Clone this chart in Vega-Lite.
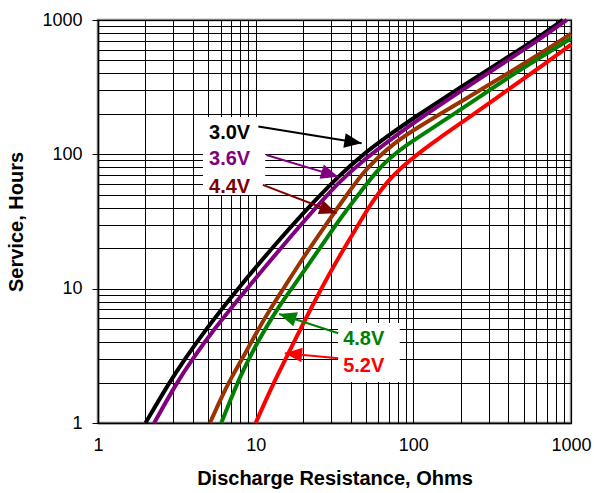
{
  "$schema": "https://vega.github.io/schema/vega-lite/v6.json",
  "width": 473,
  "height": 403,
  "autosize": "none",
  "padding": {"left": 98, "top": 20, "right": 23, "bottom": 70},
  "background": "white",
  "config": {
    "font": "Liberation Sans",
    "view": {"stroke": "#808080", "strokeWidth": 2.5}
  },
  "datasets": {
    "curves": [
      {"series": "3.0V", "R": 2, "H": 1}, {"series": "3.0V", "R": 2.83, "H": 2}, {"series": "3.0V", "R": 3.56, "H": 3},
      {"series": "3.0V", "R": 4.84, "H": 5}, {"series": "3.0V", "R": 7.7, "H": 10}, {"series": "3.0V", "R": 12.9, "H": 20.5},
      {"series": "3.0V", "R": 21, "H": 39}, {"series": "3.0V", "R": 34, "H": 70}, {"series": "3.0V", "R": 48, "H": 100},
      {"series": "3.0V", "R": 70, "H": 139}, {"series": "3.0V", "R": 100, "H": 186}, {"series": "3.0V", "R": 200, "H": 317},
      {"series": "3.0V", "R": 400, "H": 533}, {"series": "3.0V", "R": 600, "H": 722}, {"series": "3.0V", "R": 889, "H": 1000},
      {"series": "3.6V", "R": 2.27, "H": 1}, {"series": "3.6V", "R": 3.16, "H": 2}, {"series": "3.6V", "R": 3.98, "H": 3},
      {"series": "3.6V", "R": 5.45, "H": 5}, {"series": "3.6V", "R": 8.8, "H": 10}, {"series": "3.6V", "R": 12.9, "H": 17.1},
      {"series": "3.6V", "R": 21, "H": 33.5}, {"series": "3.6V", "R": 34, "H": 63}, {"series": "3.6V", "R": 48, "H": 90},
      {"series": "3.6V", "R": 70, "H": 126}, {"series": "3.6V", "R": 100, "H": 171}, {"series": "3.6V", "R": 200, "H": 296},
      {"series": "3.6V", "R": 400, "H": 505}, {"series": "3.6V", "R": 600, "H": 690}, {"series": "3.6V", "R": 940, "H": 1000},
      {"series": "4.4V", "R": 5.13, "H": 1}, {"series": "4.4V", "R": 6.1, "H": 1.58}, {"series": "4.4V", "R": 7.04, "H": 2.2},
      {"series": "4.4V", "R": 8.34, "H": 3.1}, {"series": "4.4V", "R": 9.9, "H": 4.5}, {"series": "4.4V", "R": 12.3, "H": 7},
      {"series": "4.4V", "R": 15, "H": 10}, {"series": "4.4V", "R": 20, "H": 17}, {"series": "4.4V", "R": 26.8, "H": 28},
      {"series": "4.4V", "R": 37.8, "H": 50}, {"series": "4.4V", "R": 48, "H": 73}, {"series": "4.4V", "R": 58.5, "H": 93},
      {"series": "4.4V", "R": 75, "H": 120}, {"series": "4.4V", "R": 100, "H": 152}, {"series": "4.4V", "R": 200, "H": 246},
      {"series": "4.4V", "R": 400, "H": 402}, {"series": "4.4V", "R": 700, "H": 600}, {"series": "4.4V", "R": 1000, "H": 790},
      {"series": "4.8V", "R": 6.05, "H": 1}, {"series": "4.8V", "R": 6.9, "H": 1.47}, {"series": "4.8V", "R": 7.95, "H": 2.2},
      {"series": "4.8V", "R": 9.66, "H": 3.5}, {"series": "4.8V", "R": 11.7, "H": 5.2}, {"series": "4.8V", "R": 14.3, "H": 7.6},
      {"series": "4.8V", "R": 16.9, "H": 10}, {"series": "4.8V", "R": 22, "H": 15.5}, {"series": "4.8V", "R": 29, "H": 25},
      {"series": "4.8V", "R": 38, "H": 39}, {"series": "4.8V", "R": 46, "H": 52}, {"series": "4.8V", "R": 58, "H": 74},
      {"series": "4.8V", "R": 70, "H": 93}, {"series": "4.8V", "R": 90, "H": 117}, {"series": "4.8V", "R": 130, "H": 155},
      {"series": "4.8V", "R": 200, "H": 215}, {"series": "4.8V", "R": 400, "H": 375}, {"series": "4.8V", "R": 700, "H": 560},
      {"series": "4.8V", "R": 1000, "H": 730},
      {"series": "5.2V", "R": 10, "H": 1}, {"series": "5.2V", "R": 11.5, "H": 1.45}, {"series": "5.2V", "R": 13.3, "H": 2.1},
      {"series": "5.2V", "R": 18.2, "H": 4.4}, {"series": "5.2V", "R": 25.7, "H": 9.8}, {"series": "5.2V", "R": 35, "H": 18.5},
      {"series": "5.2V", "R": 44, "H": 29}, {"series": "5.2V", "R": 56, "H": 46}, {"series": "5.2V", "R": 68, "H": 62},
      {"series": "5.2V", "R": 82, "H": 78}, {"series": "5.2V", "R": 110, "H": 104}, {"series": "5.2V", "R": 150, "H": 135},
      {"series": "5.2V", "R": 200, "H": 171}, {"series": "5.2V", "R": 400, "H": 303}, {"series": "5.2V", "R": 700, "H": 482},
      {"series": "5.2V", "R": 1000, "H": 655}
    ],
    "labels": [
      {"label": "3.0V", "R": 5.06, "H": 129.5},
      {"label": "3.6V", "R": 5.06, "H": 83.4},
      {"label": "4.4V", "R": 5.06, "H": 51.9},
      {"label": "4.8V", "R": 35.9, "H": 3.81},
      {"label": "5.2V", "R": 35.9, "H": 2.41}
    ],
    "arrows": [
      {"label": "3.0V", "R": 47, "H": 121, "R2": 10.4, "H2": 161},
      {"label": "3.6V", "R": 33.4, "H": 68.2, "R2": 11.7, "H2": 99},
      {"label": "4.4V", "R": 32.6, "H": 36.4, "R2": 11.1, "H2": 59.2},
      {"label": "4.8V", "R": 14.1, "H": 6.48, "R2": 33.4, "H2": 4.66},
      {"label": "5.2V", "R": 15.3, "H": 3.3, "R2": 33.4, "H2": 3.03}
    ],
    "boxes": [
      {"R": 4.63, "H": 190, "R2": 11.5, "H2": 49.9},
      {"R": 33.3, "H": 5.55, "R2": 82, "H2": 2.02}
    ]
  },
  "encoding": {
    "x": {
      "field": "R", "type": "quantitative",
      "scale": {"type": "log", "domain": [1, 1000], "nice": false},
      "title": "Discharge Resistance, Ohms",
      "axis": {
        "values": [1,2,3,4,5,6,7,8,9,10,20,30,40,50,60,70,80,90,100,200,300,400,500,600,700,800,900,1000],
        "format": "d",
        "labelExpr": "indexof([1,10,100,1000], datum.value) >= 0 ? datum.label : ''",
        "labelOverlap": false, "labelFlush": false, "labelBound": false,
        "labelFontSize": 18, "labelColor": "#000", "labelPadding": 13,
        "ticks": false, "tickSize": 0,
        "grid": true, "gridColor": "#000", "gridWidth": 1, "gridOpacity": 1,
        "domainColor": "#000", "domainWidth": 1.5,
        "titleFontSize": 20, "titleFontWeight": "bold", "titleColor": "#000", "titlePadding": 14
      }
    },
    "y": {
      "field": "H", "type": "quantitative",
      "scale": {"type": "log", "domain": [1, 1000], "nice": false},
      "title": "Service, Hours",
      "axis": {
        "values": [1,2,3,4,5,6,7,8,9,10,20,30,40,50,60,70,80,90,100,200,300,400,500,600,700,800,900,1000],
        "format": "d",
        "labelExpr": "indexof([1,10,100,1000], datum.value) >= 0 ? datum.label : ''",
        "labelOverlap": false, "labelBound": false, "labelFlush": false,
        "labelFontSize": 18, "labelColor": "#000", "labelPadding": 10,
        "ticks": true, "tickSize": 6, "tickColor": "#000",
        "tickOpacity": {"condition": {"test": "indexof([1,10,100,1000], datum.value) >= 0", "value": 1}, "value": 0},
        "grid": true, "gridColor": "#000", "gridWidth": 1, "gridOpacity": 1,
        "domainColor": "#000", "domainWidth": 1.5,
        "titleFontSize": 20, "titleFontWeight": "bold", "titleColor": "#000", "titlePadding": 15
      }
    }
  },
  "layer": [
    {
      "data": {"name": "boxes"},
      "mark": {"type": "rect", "fill": "white", "stroke": null},
      "encoding": {"x2": {"field": "R2"}, "y2": {"field": "H2"}}
    },
    {
      "data": {"name": "curves"},
      "mark": {"type": "line", "strokeWidth": 4, "interpolate": "basis"},
      "encoding": {
        "color": {"field": "series", "type": "nominal", "legend": null,
          "scale": {"domain": ["3.0V","3.6V","4.4V","4.8V","5.2V"], "range": ["#000000","#800080","#993300","#008000","#ff0000"]}}
      }
    },
    {
      "data": {"name": "arrows"},
      "mark": {"type": "rule", "strokeWidth": 2},
      "encoding": {
        "x2": {"field": "R2"}, "y2": {"field": "H2"},
        "color": {"field": "label", "type": "nominal", "legend": null,
          "scale": {"domain": ["3.0V","3.6V","4.4V","4.8V","5.2V"], "range": ["#000000","#800080","#800000","#008000","#ff0000"]}}
      }
    },
    {
      "data": {"name": "arrows"},
      "mark": {"type": "point", "shape": "M0,0L-2,-0.85L-2,0.85Z", "filled": true, "opacity": 1, "size": 300, "strokeWidth": 0},
      "encoding": {
        "angle": {"field": "label", "type": "nominal", "legend": null,
          "scale": {"type": "ordinal", "domain": ["3.0V","3.6V","4.4V","4.8V","5.2V"], "range": [9.1, 16.9, 20.9, 198.1, 185.4]}},
        "color": {"field": "label", "type": "nominal", "legend": null,
          "scale": {"domain": ["3.0V","3.6V","4.4V","4.8V","5.2V"], "range": ["#000000","#800080","#800000","#008000","#ff0000"]}}
      }
    },
    {
      "data": {"name": "labels"},
      "mark": {"type": "text", "align": "left", "baseline": "alphabetic", "fontSize": 20, "fontWeight": "bold"},
      "encoding": {
        "text": {"field": "label"},
        "color": {"field": "label", "type": "nominal", "legend": null,
          "scale": {"domain": ["3.0V","3.6V","4.4V","4.8V","5.2V"], "range": ["#000000","#800080","#800000","#008000","#ff0000"]}}
      }
    }
  ],
  "resolve": {"scale": {"color": "independent"}}
}
